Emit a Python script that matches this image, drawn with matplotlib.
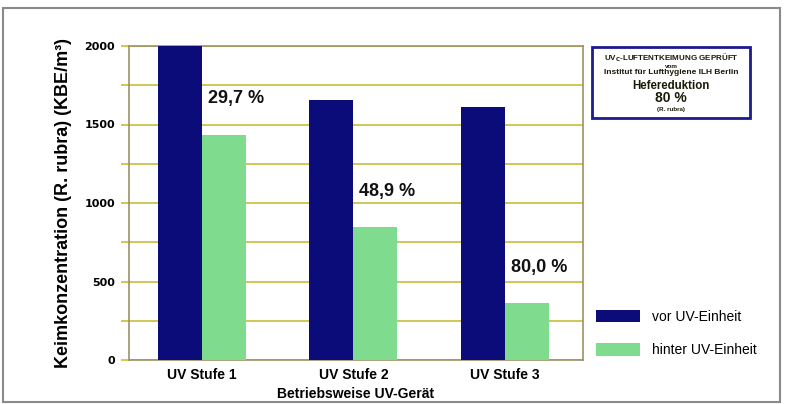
import matplotlib
matplotlib.use("Agg")
import matplotlib.pyplot as plt
from matplotlib.patches import Patch, Rectangle
import numpy as np

plt.rcParams['font.family'] = ['Liberation Sans', 'DejaVu Sans']

# Keimkonzentration vor / hinter der UV-Einheit (KBE/m³)
stufen = ["UV Stufe 1", "UV Stufe 2", "UV Stufe 3"]
vor_uv = [2000, 1655, 1610]
hinter_uv = [1435, 845, 360]
reduktion = ["29,7 %", "48,9 %", "80,0 %"]
y_ticks = [0, 500, 1000, 1500, 2000]

dunkel = "#0b0b7a"
hell = "#7fdc8f"
gitter = "#c9bd3a"
rahmen = "#9a9266"

fig = plt.figure(figsize=(7.87, 4.04), dpi=100)
ax = fig.add_axes([129 / 787, 1 - 360 / 404, 454 / 787, 314 / 404])

x = np.arange(len(stufen))
w = 0.29
ax.bar(x - w / 2, vor_uv, w, color=dunkel, zorder=3)
ax.bar(x + w / 2, hinter_uv, w, color=hell, zorder=3)

for xi, h, txt in zip(x, hinter_uv, reduktion):
    ax.text(xi + 0.04, h + 230, txt, fontsize=13, fontweight="bold",
            va="center", ha="left", color="#111111", zorder=4)

ax.set_xlim(-0.48, 2.515)
ax.set_ylim(0, 2000)
ax.set_yticks(y_ticks)
ax.set_yticks(np.arange(250, 2000, 500), minor=True)
ax.set_yticklabels([str(v) for v in y_ticks], family="DejaVu Sans",
                   fontweight="bold", fontsize=8)
ax.yaxis.grid(True, which="both", color=gitter, lw=1.2, zorder=1)
ax.tick_params(axis="y", which="both", length=6, color=gitter, width=1.2, pad=4)
ax.set_xticks(x)
ax.set_xticklabels(stufen, fontweight="bold", fontsize=10)
ax.tick_params(axis="x", length=0, pad=6)
for s in ax.spines.values():
    s.set_color(rahmen)
    s.set_linewidth(1.2)

ax.set_xlabel("Betriebsweise UV-Gerät", fontweight="bold", fontsize=10, labelpad=3)
ax.set_ylabel("Keimkonzentration (R. rubra) (KBE/m³)", fontweight="bold",
              fontsize=13, labelpad=9)

# Legende rechts unten
handles = [Patch(facecolor=dunkel, edgecolor="none"),
           Patch(facecolor=hell, edgecolor="none")]
fig.legend(handles, ["vor UV-Einheit", "hinter UV-Einheit"], loc="upper left",
           bbox_to_anchor=(596 / 787, 1 - 310 / 404), frameon=False, fontsize=10,
           handlelength=3.2, handleheight=1.0, handletextpad=0.8,
           labelspacing=1.4, borderpad=0, borderaxespad=0)

# Prüfsiegel oben rechts
fig.patches.append(Rectangle((592 / 787, 1 - 118 / 404), 158 / 787, 71 / 404,
                             transform=fig.transFigure, facecolor="white",
                             edgecolor="#1c1c8c", lw=2))
cx = 671 / 787
siegel = [
    (58, r"UV$_\mathbf{C}$-LUFTENTKEIMUNG GEPRÜFT", 5.8),
    (66, "vom", 4.5),
    (73, "Institut für Lufthygiene ILH Berlin", 6),
    (86, "Hefereduktion", 8.3),
    (98, "80 %", 10),
    (110, "(R. rubra)", 4.5),
]
for ypx, txt, fs in siegel:
    fig.text(cx, 1 - ypx / 404, txt, ha="center", va="center", fontsize=fs,
             fontweight="bold", color="#1a1a08")

# Rahmen um die ganze Grafik
fig.patches.append(Rectangle((3 / 787, 1 - 402 / 404), 777 / 787, 394 / 404,
                             transform=fig.transFigure, facecolor="none",
                             edgecolor="#8a8a8a", lw=1.5))

fig.savefig("out.png", dpi=100)
